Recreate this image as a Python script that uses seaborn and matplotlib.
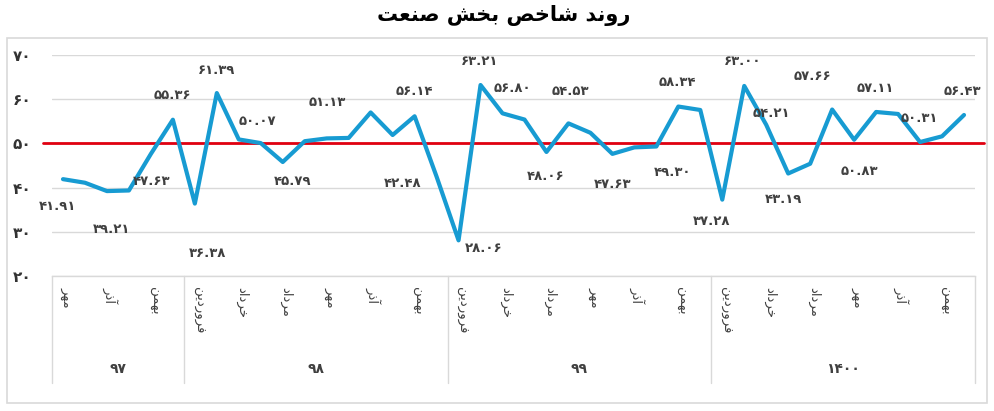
import numpy as np
import pandas as pd
import matplotlib
matplotlib.use("Agg")
import matplotlib.pyplot as plt
import matplotlib.transforms as mtransforms
from matplotlib.patches import Rectangle
import seaborn as sns

# ---------------- data ----------------
title = "روند شاخص بخش صنعت"
years = ["۹۷", "۹۸", "۹۹", "۱۴۰۰"]
months_97 = ["مهر", "آبان", "آذر", "دی", "بهمن", "اسفند"]
months_full = ["فروردین", "اردیبهشت", "خرداد", "تیر", "مرداد", "شهریور",
               "مهر", "آبان", "آذر", "دی", "بهمن", "اسفند"]
values_97 = [41.91, 41.10, 39.21, 39.35, 47.63, 55.36]
values_98 = [36.38, 61.39, 50.90, 50.07, 45.79, 50.50, 51.13, 51.24, 57.00, 51.90, 56.14, 42.48]
values_99 = [28.06, 63.21, 56.80, 55.40, 48.06, 54.53, 52.40, 47.63, 49.10, 49.30, 58.34, 57.56]
values_1400 = [37.28, 63.00, 54.21, 43.19, 45.40, 57.66, 50.83, 57.11, 56.66, 50.31, 51.60, 56.43]
reference_level = 50
y_ticks = [20, 30, 40, 50, 60, 70]

# indices of points that carry a data label
label_idx = [0, 2, 4, 5, 6, 7, 9, 10, 12, 16, 17, 18, 19, 20, 22, 23, 25, 27,
             28, 30, 31, 32, 33, 35, 36, 37, 39, 41]

# ---------------- helpers: Persian shaping ----------------
FORMS = {
    'ا': ('\uFE8D', '\uFE8E'), 'آ': ('\uFE81', '\uFE82'),
    'ب': ('\uFE8F', '\uFE90', '\uFE91', '\uFE92'),
    'پ': ('\uFB56', '\uFB57', '\uFB58', '\uFB59'),
    'ت': ('\uFE95', '\uFE96', '\uFE97', '\uFE98'),
    'ث': ('\uFE99', '\uFE9A', '\uFE9B', '\uFE9C'),
    'ج': ('\uFE9D', '\uFE9E', '\uFE9F', '\uFEA0'),
    'ح': ('\uFEA1', '\uFEA2', '\uFEA3', '\uFEA4'),
    'خ': ('\uFEA5', '\uFEA6', '\uFEA7', '\uFEA8'),
    'د': ('\uFEA9', '\uFEAA'), 'ذ': ('\uFEAB', '\uFEAC'),
    'ر': ('\uFEAD', '\uFEAE'), 'ز': ('\uFEAF', '\uFEB0'),
    'س': ('\uFEB1', '\uFEB2', '\uFEB3', '\uFEB4'),
    'ش': ('\uFEB5', '\uFEB6', '\uFEB7', '\uFEB8'),
    'ص': ('\uFEB9', '\uFEBA', '\uFEBB', '\uFEBC'),
    'ع': ('\uFEC9', '\uFECA', '\uFECB', '\uFECC'),
    'ف': ('\uFED1', '\uFED2', '\uFED3', '\uFED4'),
    'ق': ('\uFED5', '\uFED6', '\uFED7', '\uFED8'),
    'ل': ('\uFEDD', '\uFEDE', '\uFEDF', '\uFEE0'),
    'م': ('\uFEE1', '\uFEE2', '\uFEE3', '\uFEE4'),
    'ن': ('\uFEE5', '\uFEE6', '\uFEE7', '\uFEE8'),
    'ه': ('\uFEE9', '\uFEEA', '\uFEEB', '\uFEEC'),
    'و': ('\uFEED', '\uFEEE'),
    'ی': ('\uFEEF', '\uFEF0', '\uFEF3', '\uFEF4'),
}


def shape(text):
    chars = list(text)
    out = []
    for i, c in enumerate(chars):
        if c not in FORMS:
            out.append(c)
            continue
        f = FORMS[c]
        prev = chars[i - 1] if i > 0 else None
        nxt = chars[i + 1] if i + 1 < len(chars) else None
        jp = prev is not None and prev in FORMS and len(FORMS[prev]) == 4
        jn = len(f) == 4 and nxt is not None and nxt in FORMS
        if jp and jn:
            out.append(f[3])
        elif jp:
            out.append(f[1])
        elif jn:
            out.append(f[2])
        else:
            out.append(f[0])
    return ''.join(reversed(out))


FA_DIGITS = str.maketrans('0123456789', '۰۱۲۳۴۵۶۷۸۹')


def fa_num(s):
    return s.translate(FA_DIGITS)


# ---------------- build table ----------------
year_months = [months_97, months_full, months_full, months_full]
year_values = [values_97, values_98, values_99, values_1400]
rows = []
for y, ms, vs in zip(years, year_months, year_values):
    for m, v in zip(ms, vs):
        rows.append({"year": y, "month": m, "value": v})
df = pd.DataFrame(rows)
df["idx"] = np.arange(len(df))
n = len(df)

# ---------------- figure ----------------
sns.set_style("white")
plt.rcParams['font.family'] = ['DejaVu Sans']

W, H = 994, 411
fig = plt.figure(figsize=(W / 100, H / 100), dpi=100)
L, R, T, B = 52, 975, 55, 276
ax = fig.add_axes([L / W, 1 - B / H, (R - L) / W, (B - T) / H])

# chart border
fig.add_artist(Rectangle((7 / W, 8 / H), (987 - 7) / W, (403 - 38) / H,
                         transform=fig.transFigure, fill=False,
                         edgecolor='#d9d9d9', lw=1.2))

fig.text(504 / W, 1 - 15 / H, shape(title), ha='center', va='center',
         fontsize=15, fontweight='bold', color='black')

ax.set_xlim(-0.5, n - 0.5)
ax.set_ylim(20, 70)
ax.set_yticks(y_ticks)
ax.set_yticklabels([fa_num(str(t)) for t in y_ticks], fontsize=11,
                   fontweight='bold', color='#333333')
ax.tick_params(axis='y', length=0, pad=15)
ax.set_xticks([])
ax.grid(axis='y', color='#d9d9d9', lw=1)
ax.set_axisbelow(True)
for s in ['left', 'right', 'top']:
    ax.spines[s].set_visible(False)
ax.spines['bottom'].set_color('#d9d9d9')
ax.spines['bottom'].set_linewidth(1)

# reference line
ax.axhline(reference_level, xmin=-9 / (R - L), xmax=(984 - L) / (R - L),
           color='#e00010', lw=2.0, clip_on=False, zorder=3)

sns.lineplot(data=df, x='idx', y='value', ax=ax, color='#179bd2', lw=3.0,
             zorder=4, legend=False)
ax.set_xlabel('')
ax.set_ylabel('')

# data labels (offsets in pixels: dx, dy downward)
label_off = {0: (-5, 27), 2: (5, 38), 4: (1, 28), 5: (0, -24), 6: (13, 50),
             7: (0, -23), 9: (-3, -22), 10: (10, 19), 12: (1, -36), 16: (0, -25),
             17: (-34, 7), 18: (25, 8), 19: (-1, -24), 20: (10, -25), 22: (-1, 25),
             23: (2, -32), 25: (0, 31), 27: (16, 26), 28: (-1, -24), 30: (-11, 22),
             31: (-2, -24), 32: (5, -11), 33: (-5, 26), 35: (-20, -33), 36: (5, 32),
             37: (-1, -23), 39: (-1, -24), 41: (-2, -23)}
for i in label_idx:
    v = df.loc[i, 'value']
    dx, dy = label_off[i]
    ax.annotate(fa_num(f"{v:.2f}"), (i, v), xytext=(dx, -dy),
                textcoords='offset pixels', ha='center', va='center',
                fontsize=9.5, fontweight='bold', color='#404040', zorder=5)

# category table below axis
trans = mtransforms.blended_transform_factory(ax.transData, ax.transAxes)
ax_h = B - T
bottom_ax = -(383 - B) / ax_h
bounds = [-0.5]
start = 0
for vs in year_values:
    start += len(vs)
    bounds.append(start - 0.5)
for b in bounds:
    ax.plot([b, b], [0, bottom_ax], transform=trans, color='#d9d9d9', lw=1,
            clip_on=False)

for i in range(0, n, 2):
    ax.text(i + 0.15, -(287 - B) / ax_h, shape(df.loc[i, 'month']), transform=trans,
            rotation=270, ha='center', va='top', fontsize=9.5, color='#404040')

for k, y in enumerate(years):
    center = (bounds[k] + bounds[k + 1]) / 2
    ax.text(center, -(369 - B) / ax_h, y, transform=trans, ha='center',
            va='center', fontsize=10, fontweight='bold', color='#404040')

fig.savefig('out.png', dpi=100)
